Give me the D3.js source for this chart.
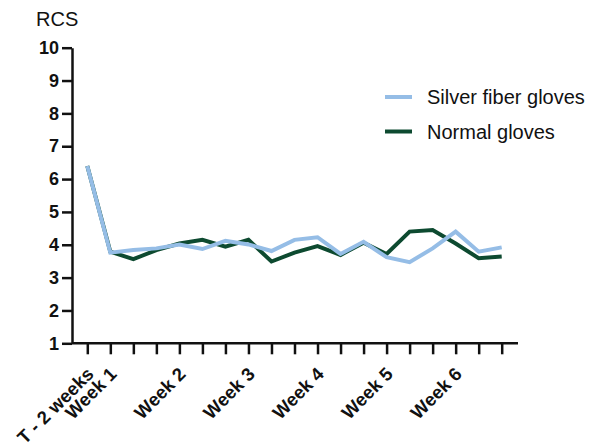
<!DOCTYPE html>
<html>
<head>
<meta charset="utf-8">
<script src="https://cdn.jsdelivr.net/npm/d3@7"></script>
<style>
  body { margin: 0; background: #fff; }
  svg { font-family: "Liberation Sans", Arial, sans-serif; }
</style>
</head>
<body>
<svg id="chart"></svg>
<script>
// time points (19 ticks), only some carry a label
var timepoints = d3.range(19);
var tickLabels = ["T - 2 weeks", "Week 1", "", "", "Week 2", "", "", "Week 3", "", "",
                  "Week 4", "", "", "Week 5", "", "", "Week 6", "", ""];
var silver = [6.4, 3.76, 3.84, 3.89, 4.01, 3.87, 4.12, 4.01, 3.81, 4.15,
              4.23, 3.72, 4.09, 3.62, 3.47, 3.89, 4.40, 3.79, 3.92];
var normal = [6.4, 3.79, 3.56, 3.84, 4.04, 4.15, 3.94, 4.15, 3.49, 3.76,
              3.96, 3.69, 4.06, 3.72, 4.40, 4.45, 4.04, 3.59, 3.64];
var yTicks = [1, 2, 3, 4, 5, 6, 7, 8, 9, 10];

var width = 590, height = 444;
var svg = d3.select("#chart").attr("width", width).attr("height", height);

var x = d3.scalePoint().domain(timepoints).range([87.3, 501.7]);
var y = d3.scaleLinear().domain([1, 10]).range([343.3, 47.7]);
var axisX = 72;

// y axis
var gy = svg.append("g")
    .attr("transform", "translate(" + axisX + ",0)")
    .call(d3.axisLeft(y).tickValues(yTicks).tickSize(10).tickPadding(3).tickSizeOuter(0));
gy.select(".domain").attr("stroke-width", 2.5).attr("stroke", "#111");
gy.selectAll(".tick line").attr("stroke-width", 2.5).attr("stroke", "#111");
gy.selectAll(".tick text")
    .style("font-size", "18px")
    .style("font-weight", "bold")
    .attr("fill", "#111");

// x axis
var gx = svg.append("g")
    .attr("transform", "translate(0," + y(1) + ")")
    .call(d3.axisBottom(x).tickFormat(function(d) { return tickLabels[d]; }).tickSize(11).tickSizeOuter(0));
gx.select(".domain").remove();
gx.append("line")
    .attr("x1", axisX)
    .attr("x2", 518)
    .attr("stroke", "#111")
    .attr("stroke-width", 2.5);
gx.selectAll(".tick line").attr("stroke-width", 2.5).attr("stroke", "#111");
gx.selectAll(".tick text")
    .attr("x", 0)
    .attr("y", 0)
    .attr("dy", 0)
    .attr("text-anchor", "end")
    .attr("transform", "translate(7,32) rotate(-45)")
    .style("font-size", "18.5px")
    .style("font-weight", "bold")
    .attr("fill", "#111");

// y axis title
svg.append("text")
    .attr("x", 36)
    .attr("y", 26)
    .style("font-size", "20px")
    .attr("fill", "#111")
    .text("RCS");

var line = d3.line()
    .x(function(d, i) { return x(timepoints[i]); })
    .y(function(d) { return y(d); });

var series = [
    { name: "Normal gloves", values: normal, color: "#0d4a30" },
    { name: "Silver fiber gloves", values: silver, color: "#95bde6" }
];

series.forEach(function(s) {
    svg.append("path")
        .datum(s.values)
        .attr("fill", "none")
        .attr("stroke", s.color)
        .attr("stroke-width", 4)
        .attr("stroke-linejoin", "miter")
        .attr("d", line);
});

// legend
var legend = svg.append("g").attr("transform", "translate(385,97)");
var legendItems = [series[1], series[0]];
legendItems.forEach(function(s, i) {
    legend.append("line")
        .attr("x1", 0)
        .attr("x2", 27)
        .attr("y1", i * 34.5)
        .attr("y2", i * 34.5)
        .attr("stroke", s.color)
        .attr("stroke-width", 4);
    legend.append("text")
        .attr("x", 42)
        .attr("y", i * 34.5)
        .attr("dy", "0.35em")
        .style("font-size", "20px")
        .attr("fill", "#111")
        .text(s.name);
});
</script>
</body>
</html>
